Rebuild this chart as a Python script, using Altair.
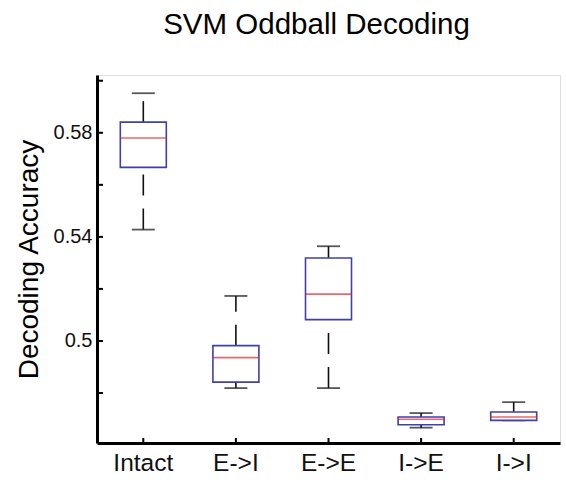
import altair as alt
import pandas as pd

categories = ["Intact", "E->I", "E->E", "I->E", "I->I"]
lower = [0.5428, 0.4819, 0.4819, 0.4667, 0.4695]
q1 = [0.5667, 0.4842, 0.5082, 0.4678, 0.4695]
median = [0.5780, 0.4936, 0.5180, 0.4699, 0.4708]
q3 = [0.5841, 0.4982, 0.5319, 0.4708, 0.4727]
upper = [0.5952, 0.5173, 0.5364, 0.4723, 0.4765]

y_tick_values = [0.48, 0.50, 0.52, 0.54, 0.56, 0.58, 0.60]
y_label_values = [0.50, 0.54, 0.58]

df = pd.DataFrame({"cat": categories, "lower": lower, "q1": q1,
                   "median": median, "q3": q3, "upper": upper})
ticks_df = pd.DataFrame({"v": y_tick_values})
xt_df = pd.DataFrame({"cat": categories})

W, H = 463, 368
FONT = "Liberation Sans"

xscale = alt.Scale(domain=categories, paddingInner=0, paddingOuter=0)
yscale = alt.Scale(domain=[0.4608, 0.6022], nice=False, zero=False)

x_enc = alt.X("cat:N", scale=xscale, sort=categories,
              axis=alt.Axis(title=None, labelAngle=0, ticks=False, tickSize=0,
                            labelFontSize=24.5, labelFont=FONT, labelColor="#111",
                            labelPadding=8, domainColor="#000", domainWidth=3))
y_axis = alt.Axis(title="Decoding Accuracy", values=y_label_values, format="~g",
                  ticks=False, tickSize=0, grid=False,
                  labelFontSize=20, labelFont=FONT, labelColor="#111",
                  labelPadding=5, domainColor="#000", domainWidth=3,
                  titleFont=FONT, titleFontSize=28, titleFontWeight="normal",
                  titleColor="#000", titlePadding=10)

base = alt.Chart(df)

whisk_lo = base.mark_rule(color="#111", strokeWidth=1.6, strokeDash=[21, 13]).encode(
    x=x_enc, y=alt.Y("lower:Q", scale=yscale, axis=y_axis), y2="q1:Q")
whisk_hi = base.mark_rule(color="#111", strokeWidth=1.6, strokeDash=[21, 13]).encode(
    x=alt.X("cat:N", scale=xscale, sort=categories),
    y=alt.Y("q3:Q", scale=yscale), y2="upper:Q")
cap_lo = base.mark_tick(color="#111", size=23, thickness=1.8, orient="horizontal").encode(
    x=alt.X("cat:N", scale=xscale, sort=categories), y=alt.Y("lower:Q", scale=yscale))
cap_hi = base.mark_tick(color="#111", size=23, thickness=1.8, orient="horizontal").encode(
    x=alt.X("cat:N", scale=xscale, sort=categories), y=alt.Y("upper:Q", scale=yscale))
box = base.mark_bar(fill="white", stroke="#4040aa", strokeWidth=1.6, size=46).encode(
    x=alt.X("cat:N", scale=xscale, sort=categories),
    y=alt.Y("q1:Q", scale=yscale), y2="q3:Q")
med = base.mark_tick(color="#e02828", size=46, thickness=1.6, orient="horizontal").encode(
    x=alt.X("cat:N", scale=xscale, sort=categories), y=alt.Y("median:Q", scale=yscale))

ytick_marks = alt.Chart(ticks_df).mark_rule(color="#000", strokeWidth=2).encode(
    y=alt.Y("v:Q", scale=yscale), x=alt.value(0), x2=alt.value(6))
xtick_marks = alt.Chart(xt_df).mark_rule(color="#000", strokeWidth=2).encode(
    x=alt.X("cat:N", scale=xscale, sort=categories), y=alt.value(H), y2=alt.value(H - 5))

chart = alt.layer(whisk_lo, whisk_hi, cap_lo, cap_hi, box, med, ytick_marks, xtick_marks).properties(
    width=W, height=H,
    title=alt.TitleParams("SVM Oddball Decoding", font=FONT, fontSize=29.5,
                          fontWeight="normal", color="#000", offset=35, dx=-12, anchor="middle"),
    autosize=alt.AutoSizeParams(type="none"),
    padding={"left": 97, "top": 75, "right": 6, "bottom": 37},
).configure_view(stroke=None).configure(background="white")

chart.save("out.html", embed_options={"renderer": "svg", "actions": False})
